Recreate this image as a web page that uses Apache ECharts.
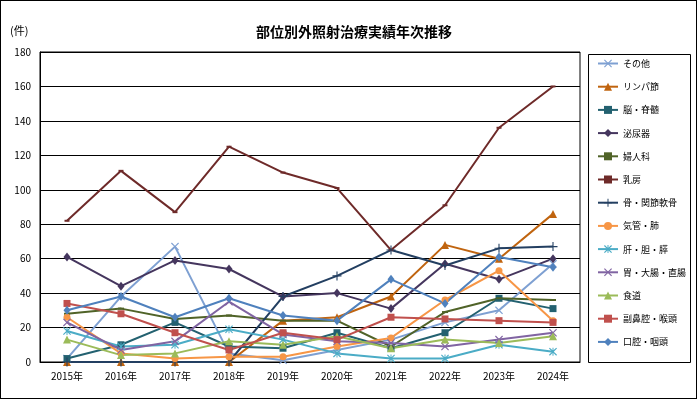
<!DOCTYPE html>
<html>
<head>
    <meta charset="utf-8">
    <title>部位別外照射治療実績年次推移</title>
    <script src="https://cdn.jsdelivr.net/npm/echarts@6/dist/echarts.min.js"></script>
</head>
<style>
    *{
        margin: 0;
        padding: 0;
    }
    body{
        background: #fff;
    }
    .chart{
        width: 695px;
        height: 397px;
        border: 1px solid #000;
    }
</style>
<body>
<div class="chart"></div>
<script>
    // 年度
    let years = ['2015年','2016年','2017年','2018年','2019年','2020年','2021年','2022年','2023年','2024年'];

    // 部位ごとの件数
    let sonota    = [2, 38, 67, 5, 1, 7, 13, 23, 30, 57];
    let linpa     = [0, 0, 0, 0, 24, 26, 38, 68, 60, 86];
    let nou       = [2, 10, 23, 9, 8, 17, 8, 17, 37, 31];
    let hinyou    = [61, 44, 59, 54, 38, 40, 31, 57, 48, 60];
    let fujinka   = [28, 31, 25, 27, 24, 24, 9, 29, 37, 36];
    let nyubou    = [82, 111, 87, 125, 110, 101, 65, 91, 136, 160];
    let hone      = [0, 0, 0, 0, 38, 50, 65, 56, 66, 67];
    let kikan     = [26, 5, 2, 3, 3, 9, 14, 36, 53, 24];
    let kan       = [18, 9, 10, 19, 13, 5, 2, 2, 10, 6];
    let i_daichou = [23, 7, 12, 35, 16, 12, 11, 9, 13, 17];
    let shokudou  = [13, 4, 5, 12, 10, 15, 8, 13, 11, 15];
    let fukubikou = [34, 28, 17, 7, 17, 13, 26, 25, 24, 23];
    let koukou    = [30, 38, 26, 37, 27, 24, 48, 34, 61, 55];

    const CROSS = 'path://M0,1L1,0L5,4L9,0L10,1L6,5L10,9L9,10L5,6L1,10L0,9L4,5Z';
    const STAR  = 'path://M0,1L1,0L5,4L9,0L10,1L6,5L10,9L9,10L5,6L1,10L0,9L4,5Z M4.4,0L5.6,0L5.6,10L4.4,10Z';
    const PLUS  = 'path://M4.4,0L5.6,0L5.6,10L4.4,10Z M0,4.4L10,4.4L10,5.6L0,5.6Z';

    let list = [
        ['その他', sonota, '#7EA0D2', CROSS, 8],
        ['リンパ節', linpa, '#C0640F', 'triangle', 8],
        ['脳・脊髄', nou, '#236170', 'rect', 7],
        ['泌尿器', hinyou, '#45365E', 'diamond', [7, 9]],
        ['婦人科', fujinka, '#506328', 'rect', [6, 2]],
        ['乳房', nyubou, '#6E2A29', 'rect', [5, 2]],
        ['骨・関節軟骨', hone, '#233F61', PLUS, 9],
        ['気管・肺', kikan, '#F79646', 'circle', 7],
        ['肝・胆・膵', kan, '#4BACC6', STAR, 8],
        ['胃・大腸・直腸', i_daichou, '#8064A2', CROSS, 8],
        ['食道', shokudou, '#9BBB59', 'triangle', 8],
        ['副鼻腔・喉頭', fukubikou, '#C0504D', 'rect', 7],
        ['口腔・咽頭', koukou, '#4F81BD', 'diamond', [7, 9]]
    ];

    let series = [];
    list.forEach(item=>{
        series.push({
            name: item[0],
            type: 'line',
            data: item[1],
            symbol: item[3],
            symbolSize: item[4],
            showAllSymbol: true,
            lineStyle: {color: item[2], width: 2},
            itemStyle: {color: item[2]},
            emphasis: {disabled: true}
        });
    });

    let chart = echarts.init(document.querySelector('.chart'));
    let option = {
        animation: false,
        backgroundColor: '#fff',
        textStyle: {fontFamily: '"Noto Sans CJK JP", sans-serif'},
        title: {
            text: '部位別外照射治療実績年次推移',
            left: 348,
            textAlign: 'center',
            top: 19,
            textStyle: {fontSize: 14, fontWeight: 'bold', color: '#000'}
        },
        graphic: [
            {type: 'text', left: 9, top: 24, style: {text: '(件)', fill: '#000', font: '11px "Noto Sans CJK JP"'}},
            {type: 'rect', shape: {x: 587.5, y: 53.5, width: 102, height: 308}, style: {fill: 'none', stroke: '#000', lineWidth: 1}}
        ],
        legend: {
            orient: 'vertical',
            left: 596,
            top: 58,
            padding: 0,
            itemWidth: 20,
            itemHeight: 10,
            itemGap: 14.2,
            textStyle: {fontSize: 9, color: '#000'},
            data: list.map(l=>l[0])
        },
        grid: {
            left: 39,
            right: 116,
            top: 51,
            bottom: 36,
            show: true,
            borderColor: '#000',
            borderWidth: 1
        },
        xAxis: {
            type: 'category',
            data: years,
            boundaryGap: true,
            axisLine: {lineStyle: {color: '#000'}},
            axisTick: {inside: true, length: 3, lineStyle: {color: '#000'}},
            axisLabel: {color: '#000', fontSize: 10, margin: 9}
        },
        yAxis: {
            type: 'value',
            min: 0,
            max: 180,
            interval: 20,
            axisLine: {show: true, lineStyle: {color: '#000'}},
            axisTick: {show: false},
            axisLabel: {color: '#000', fontSize: 10, margin: 9},
            splitLine: {lineStyle: {color: '#000'}}
        },
        series
    };
    chart.setOption(option);
</script>
</body>
</html>
